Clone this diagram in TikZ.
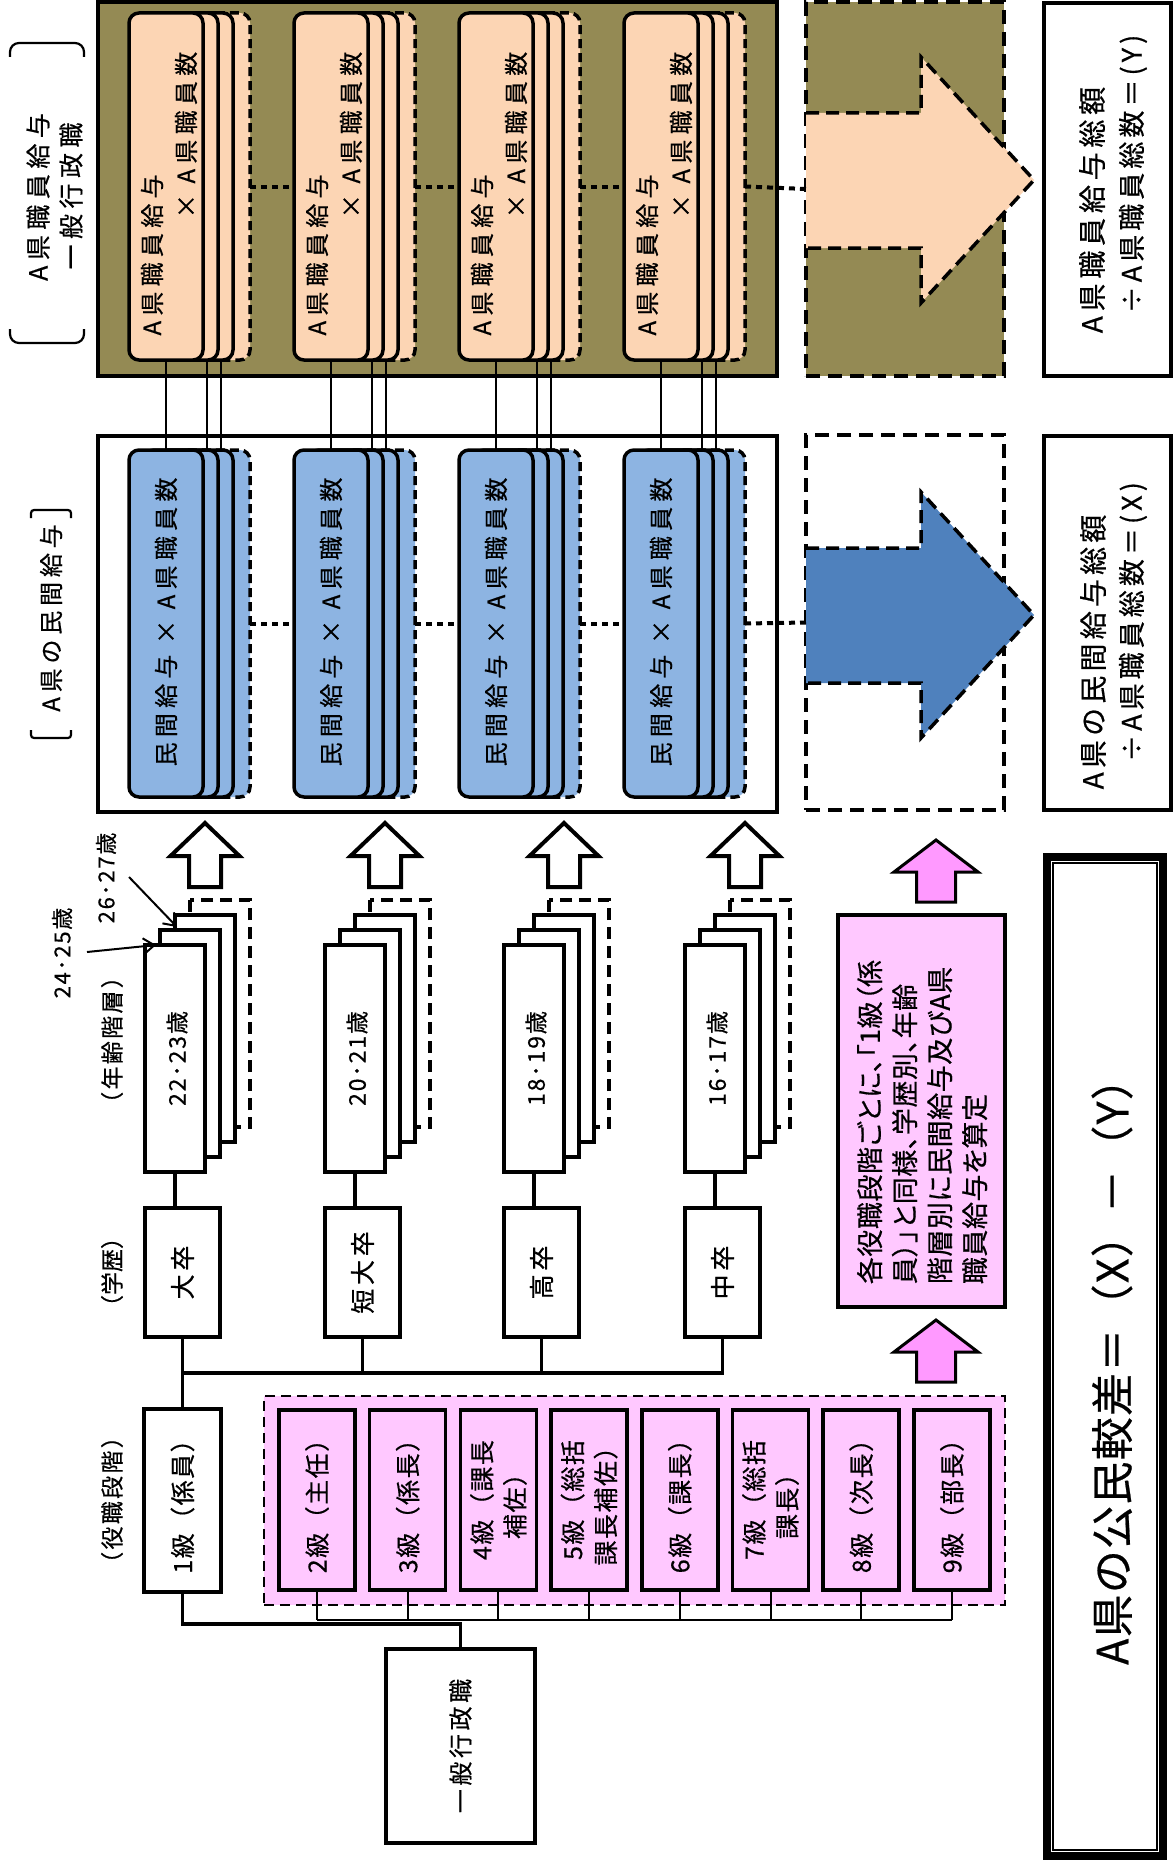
\documentclass[tikz,border=0pt]{standalone}
\usepackage{fontspec}
\setmainfont{Noto Sans CJK JP}
\usetikzlibrary{arrows.meta}
\definecolor{olivefill}{HTML}{948A54}
\definecolor{peach}{HTML}{FCD5B4}
\definecolor{lblue}{HTML}{8DB4E2}
\definecolor{dblue}{HTML}{4F81BD}
\definecolor{pinkarrow}{HTML}{FF99FF}
\definecolor{pinkfill}{HTML}{FFC8FF}
\newcommand{\fz}[3]{\fontsize{#1}{#2}\selectfont\addfontfeatures{LetterSpace=#3,FakeBold=0.5}}
\begin{document}
\begin{tikzpicture}[x=1pt,y=-1pt,
  box/.style={draw, line width=3.5pt, fill=white, inner sep=0pt, outer sep=0pt},
  layer/.style={draw, line width=3.5pt},
  dlayer/.style={draw, line width=3.5pt, dash pattern=on 9pt off 5pt},
  rtxt/.style={rotate=90, inner sep=0pt, outer sep=0pt, align=center},
  dashbox/.style={draw, line width=3.5pt, dash pattern=on 14pt off 8pt, inner sep=0pt, outer sep=0pt},
  conn/.style={line width=3.5pt},
  thinln/.style={line width=2pt},
  dotconn/.style={line width=4pt, dash pattern=on 6pt off 5pt},
  bigarrow/.style={line width=3.5pt, dash pattern=on 13pt off 7pt},
  uparrow/.style={draw, line width=4pt, fill=white, line join=miter},
  pinkup/.style={draw, line width=3pt, fill=pinkarrow, line join=miter},
  bracket/.style={line width=2.2pt, rounded corners=9pt},
  sbracket/.style={line width=2.2pt, rounded corners=3pt},
]
\useasboundingbox (0,0) rectangle (1175,1865);
\fill[white] (0,0) rectangle (1175,1865);

% ---------------- Row 1 (A県職員給与) ----------------
\node[box, fill=olivefill, minimum width=679pt, minimum height=374pt] (oliv) at (437.5,189) {};
\node[dashbox, fill=olivefill, minimum width=198pt, minimum height=374pt] (ab1) at (905,189) {};
\fill[peach] (806,113) -- (921,113) -- (921,57) -- (1034,180) -- (921,303) -- (921,248) -- (806,248) -- cycle;
\draw[bigarrow] (806,113) -- (921,113) -- (921,57) -- (1034,180) -- (921,303) -- (921,248) -- (806,248);
\node[box, line width=4pt, minimum width=127pt, minimum height=373pt] (ybox) at (1107.5,189.5) {};
\node[rtxt, font=\fz{28}{32}{17}] (ybt1) at (1092,210) {A県職員給与総額};
\node[rtxt, font=\fz{27}{32}{15}] (ybt2) at (1133,174) {÷A県職員総数＝(Y)};

% ---------------- Row 2 (民間給与) ----------------
\node[box, minimum width=679pt, minimum height=376pt] (whit) at (437.5,624) {};
\node[dashbox, fill=white, minimum width=198pt, minimum height=375pt] (ab2) at (905,622.5) {};
\fill[dblue] (806,548) -- (921,548) -- (921,492) -- (1034,615) -- (921,738) -- (921,683) -- (806,683) -- cycle;
\draw[bigarrow] (806,548) -- (921,548) -- (921,492) -- (1034,615) -- (921,738) -- (921,683) -- (806,683);
\node[box, line width=4pt, minimum width=127pt, minimum height=374pt] (xbox) at (1107.5,623) {};
\node[rtxt, font=\fz{28}{32}{15}] (xbt1) at (1093,652) {A県の民間給与総額};
\node[rtxt, font=\fz{27}{32}{15}] (xbt2) at (1133,622) {÷A県職員総数＝(X)};

% stacks
\foreach \i/\L in {1/129,2/294,3/459,4/624}{
  \draw[dlayer, fill=peach, rounded corners=10pt] (\L+47,13) rectangle (\L+121,360);
  \draw[layer, fill=peach, rounded corners=10pt] (\L+30,13) rectangle (\L+104,360);
  \draw[layer, fill=peach, rounded corners=10pt] (\L+15,13) rectangle (\L+89,360);
  \node[box, fill=peach, rounded corners=10pt, minimum width=74pt, minimum height=347pt] (o\i) at (\L+37,186.5) {};
  \node[rtxt, font=\fz{24}{28}{22}] (ot\i) at (\L+23,255) {A県職員給与};
  \node[rtxt, font=\fz{24}{28}{22}] (ou\i) at (\L+57,135) {× A県職員数};
  \draw[dlayer, fill=lblue, rounded corners=10pt] (\L+47,450) rectangle (\L+121,797);
  \draw[layer, fill=lblue, rounded corners=10pt] (\L+30,450) rectangle (\L+104,797);
  \draw[layer, fill=lblue, rounded corners=10pt] (\L+15,450) rectangle (\L+89,797);
  \node[box, fill=lblue, rounded corners=10pt, minimum width=74pt, minimum height=347pt] (b\i) at (\L+37,623.5) {};
  \node[rtxt, font=\fz{24}{28}{22}] (bt\i) at (\L+37,622) {民間給与 × A県職員数};
}
\foreach \i in {1,2,3,4}{
  \draw[thinln] (o\i.south) -- (b\i.north);
  \draw[thinln] ([xshift=41pt]o\i.south) -- ([xshift=41pt]b\i.north);
  \draw[thinln] ([xshift=55pt]o\i.south) -- ([xshift=55pt]b\i.north);
}
\draw[dotconn] ([xshift=47pt]o1.east) -- (o2.west);
\draw[dotconn] ([xshift=47pt]o2.east) -- (o3.west);
\draw[dotconn] ([xshift=47pt]o3.east) -- (o4.west);
\draw[dotconn] ([xshift=47pt]o4.east) -- (ab1.west);
\draw[dotconn] ([xshift=47pt]b1.east) -- (b2.west);
\draw[dotconn] ([xshift=47pt]b2.east) -- (b3.west);
\draw[dotconn] ([xshift=47pt]b3.east) -- (b4.west);
\draw[dotconn] ([xshift=47pt]b4.east) -- (ab2.west);

% side labels with brackets
\draw[bracket] (10,57) -- (10,43) -- (84,43) -- (84,57);
\draw[bracket] (10,329) -- (10,343) -- (84,343) -- (84,329);
\node[rtxt, font=\fz{25}{30}{22}] (lab1a) at (38,197) {A県職員給与};
\node[rtxt, font=\fz{25}{30}{22}] (lab1b) at (71,196) {一般行政職};
\draw[sbracket] (31,518) -- (31,510) -- (71,510) -- (71,518);
\draw[sbracket] (31,730) -- (31,738) -- (71,738) -- (71,730);
\node[rtxt, font=\fz{24}{30}{20}] (lab2) at (51,618) {A県の民間給与};

% ---------------- Row 3 (age / education) ----------------
\foreach \i/\L/\t/\e in {1/145/22･23歳/大卒,2/325/20･21歳/短大卒,3/504/18･19歳/高卒,4/685/16･17歳/中卒}{
  \draw[dlayer, dash pattern=on 12pt off 7pt, fill=white] (\L+45,900) rectangle (\L+105,1127);
  \draw[layer, fill=white] (\L+30,915) rectangle (\L+90,1142);
  \draw[layer, fill=white] (\L+15,930) rectangle (\L+75,1157);
  \node[box, minimum width=60pt, minimum height=227pt] (a\i) at (\L+30,1058.5) {};
  \node[rtxt, font=\fz{23}{26}{8}] (at\i) at ([xshift=2pt]a\i.center) {\t};
  \node[box, minimum width=75pt, minimum height=129pt] (e\i) at (\L+37.5,1272.5) {};
  \node[rtxt, font=\fz{25}{28}{15}] (et\i) at (e\i) {\e};
  \draw[conn] (a\i.south) -- (a\i.south |- e\i.north);
  \draw[uparrow] (\L+44,887) -- (\L+44,856) -- (\L+25.5,856) -- (\L+60,823) -- (\L+94.5,856) -- (\L+76,856) -- (\L+76,887) -- cycle;
}
\node[rtxt, font=\fz{23}{26}{10}] (lage) at (112,1040) {（年齢階層）};
\node[rtxt, font=\fz{23}{26}{0}] (ledu) at (112,1272) {（学歴）};
\node[rtxt, font=\fz{22}{26}{8}] (l24) at (62,953) {24･25歳};
\node[rtxt, font=\fz{22}{26}{8}] (l26) at (106,878) {26･27歳};
\coordinate (l24e) at (87,952);
\coordinate (l26e) at (129,877);
\draw[line width=2pt, -{Straight Barb[length=11pt,width=16pt,line width=2pt]}] (l24e) -- ([xshift=11pt]a1.north west);
\draw[line width=2pt, -{Straight Barb[length=11pt,width=16pt,line width=2pt]}] (l26e) -- ([xshift=32pt,yshift=18pt]a1.north west);

% ---------------- Row 4 (grades) ----------------
\node[rtxt, font=\fz{23}{26}{10}] (lgrade) at (112,1500) {（役職段階）};
\node[box, minimum width=77pt, minimum height=183pt] (g1) at (182.5,1500.5) {};
\node[rtxt, font=\fz{25}{33}{6}] (gt1) at (g1) {1級（係員）};
\node[draw, line width=2.5pt, dash pattern=on 10pt off 6pt, fill=pinkfill, minimum width=741pt, minimum height=209pt, inner sep=0pt, outer sep=0pt] (pgrp) at (634.5,1500.5) {};
\foreach \i/\t in {2/{2級（主任）},3/{3級（係長）},4/{4級（課長\\補佐）},5/{5級（総括\\課長補佐）},6/{6級（課長）},7/{7級（総括\\課長）},8/{8級（次長）},9/{9級（部長）}}{
  \node[box, fill=pinkfill, minimum width=76pt, minimum height=180pt] (g\i) at (317+90.7*\i-181.4,1500) {};
  \node[rtxt, font=\fz{25}{33}{6}] (gt\i) at (g\i) {\t};
}
\coordinate (gbus) at (0,1620);
\coordinate (tbus) at (0,1624);
\coordinate (ebus) at (0,1373);
\foreach \i in {2,...,9}{
  \draw[thinln] (g\i.south) -- (g\i.south |- gbus);
}
\draw[thinln] (g2.south |- gbus) -- (g9.south |- gbus);
\node[box, minimum width=149pt, minimum height=194pt] (ippan) at (460.5,1746) {};
\node[rtxt, font=\fz{24}{30}{15}] (ippant) at (ippan) {一般行政職};
\draw[conn] (g1.south) -- (g1.south |- tbus) -| (ippan.north);
\draw[conn] (g1.north) -- (g1.north |- ebus) -| (e4.south);
\draw[conn] (e1.south) -- (e1.south |- ebus);
\draw[conn] (e2.south) -- (e2.south |- ebus);
\draw[conn] (e3.south) -- (e3.south |- ebus);

% ---------------- pink note + arrows ----------------
\draw[pinkup] (916.5,902) -- (916.5,872) -- (894,872) -- (936,840) -- (978,872) -- (955.5,872) -- (955.5,902) -- cycle;
\draw[pinkup] (916.5,1382) -- (916.5,1352) -- (894,1352) -- (936,1320) -- (978,1352) -- (955.5,1352) -- (955.5,1382) -- cycle;
\node[box, fill=pinkfill, minimum width=167pt, minimum height=392pt] (pbox) at (921.5,1111) {};
\node[rtxt, align=left, font=\fz{27}{35}{2}\addfontfeatures{RawFeature=+palt}] (ptxt) at (922,1122) {各役職段階ごとに、「1級（係\\員）」と同様、学歴別、年齢\\階層別に民間給与及びA県\\職員給与を算定};

% ---------------- result box ----------------
\node[draw, line width=11pt, fill=white, minimum width=113pt, minimum height=996pt, inner sep=0pt, outer sep=0pt] (res) at (1105,1356.5) {};
\draw[white, line width=1pt] ([shift={(3pt,-3pt)}]res.north west) rectangle ([shift={(-3pt,3pt)}]res.south east);
\node[rtxt, font=\fz{43}{48}{3}] (rest) at (1112,1361) {A県の公民較差＝（X）－（Y）};
\end{tikzpicture}
\end{document}
